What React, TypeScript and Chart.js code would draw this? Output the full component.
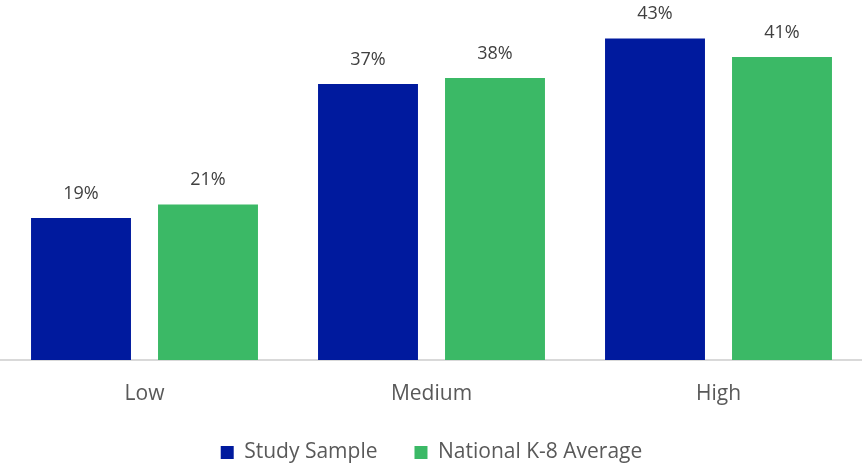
import React, { useEffect, useRef } from "react";
import { Chart, registerables } from "chart.js";

Chart.register(...registerables);

const categories = ["Low", "Medium", "High"];
const studySample = [19.0, 36.9, 43.0];
const nationalAverage = [20.8, 37.7, 40.5];
const seriesNames = ["Study Sample", "National K-8 Average"];

const FONT = "'Open Sans', 'Noto Sans', sans-serif";

const dataLabels = {
  id: "dataLabels",
  afterDatasetsDraw(chart: any) {
    const ctx = chart.ctx;
    ctx.save();
    ctx.font = `18px ${FONT}`;
    ctx.fillStyle = "#404040";
    ctx.textAlign = "center";
    ctx.textBaseline = "alphabetic";
    chart.data.datasets.forEach((ds: any, i: number) => {
      const meta = chart.getDatasetMeta(i);
      meta.data.forEach((bar: any, j: number) => {
        ctx.fillText(Math.round(ds.data[j]) + "%", bar.x, bar.y - 19);
      });
    });
    ctx.restore();
  },
};

export default function App() {
  const ref = useRef<HTMLCanvasElement>(null);
  useEffect(() => {
    if (!ref.current) return;
    const chart = new Chart(ref.current, {
      type: "bar",
      data: {
        labels: categories,
        datasets: [
          {
            label: seriesNames[0],
            data: studySample,
            backgroundColor: "#001a9e",
            categoryPercentage: 0.885,
            barPercentage: 0.787,
          },
          {
            label: seriesNames[1],
            data: nationalAverage,
            backgroundColor: "#3bb966",
            categoryPercentage: 0.885,
            barPercentage: 0.787,
          },
        ],
      },
      options: {
        animation: false,
        responsive: false,
        maintainAspectRatio: false,
        layout: { padding: { left: 1, right: 0, top: 1, bottom: 0 } },
        plugins: {
          tooltip: { enabled: false },
          legend: {
            position: "bottom",
            maxHeight: 60,
            labels: {
              boxWidth: 13,
              boxHeight: 13,
              padding: 37,
              color: "#595959",
              font: { family: FONT, size: 21 },
            },
          },
        },
        scales: {
          x: {
            grid: { display: false, drawTicks: false },
            border: { color: "#d9d9d9", width: 2 },
            ticks: {
              color: "#595959",
              font: { family: FONT, size: 21 },
              padding: 21,
            },
            afterFit(scale: any) {
              scale.height = 45;
            },
          },
          y: {
            display: false,
            min: 0,
            max: 48,
          },
        },
      },
      plugins: [dataLabels],
    });
    return () => chart.destroy();
  }, []);
  return (
    <div style={{ position: "fixed", left: 0, top: 0, width: 862, height: 465 }}>
      <canvas ref={ref} width={862} height={465} />
    </div>
  );
}
